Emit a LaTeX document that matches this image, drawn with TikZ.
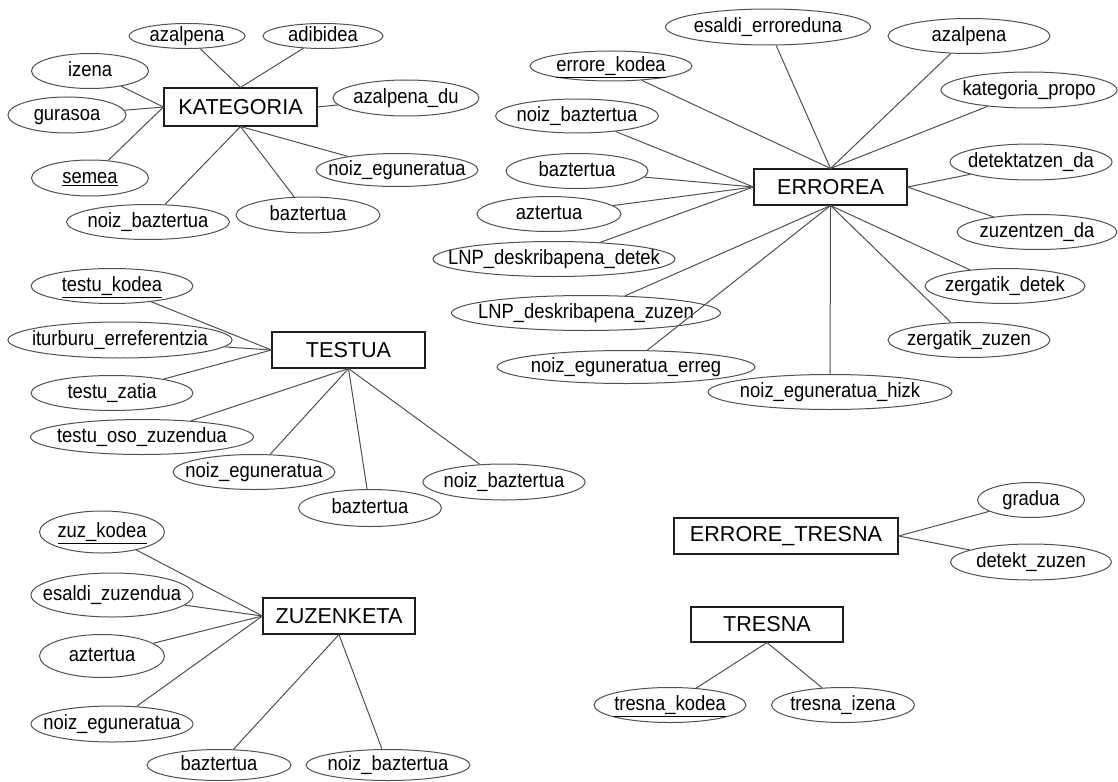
\documentclass[tikz,border=0pt]{standalone}
\usepackage{fontspec}
\setmainfont{Liberation Sans}
\usetikzlibrary{shapes.geometric}
\definecolor{lc}{RGB}{80,80,80}
\definecolor{bc}{RGB}{30,30,30}
\newcommand{\atx}[1]{\smash{\raisebox{-0.55ex}{\makebox[0pt]{\scalebox{1}[1.12]{#1}}}}}
\tikzset{
  attr/.style={ellipse, draw=lc, line width=1pt, inner sep=0pt, font=\fontsize{18.4}{22}\selectfont},
  ent/.style={rectangle, draw=bc, line width=1.1pt, inner sep=0pt, font=\fontsize{21.6}{26}\selectfont},
  link/.style={draw=lc, line width=1pt}
}
\begin{document}
\begin{tikzpicture}[x=1pt,y=-1pt]
\useasboundingbox[fill=white] (0,0) rectangle (1118,781);

% KATEGORIA
\node[ent, minimum width=153, minimum height=38] (K) at (240.5,107) {KATEGORIA};
\node[attr, minimum width=116, minimum height=25] (k1) at (187,36) {\atx{azalpena}};
\node[attr, minimum width=120, minimum height=25] (k2) at (323,36) {\atx{adibidea}};
\node[attr, minimum width=117, minimum height=35] (k3) at (90,71) {\atx{izena}};
\node[attr, minimum width=118, minimum height=36] (k4) at (67,115) {\atx{gurasoa}};
\node[attr, minimum width=117, minimum height=36] (k5) at (90,178) {\atx{\underline{semea}}};
\node[attr, minimum width=163, minimum height=35] (k6) at (148,222) {\atx{noiz\_baztertua}};
\node[attr, minimum width=144, minimum height=36] (k7) at (308,215) {\atx{baztertua}};
\node[attr, minimum width=162, minimum height=33] (k8) at (397,170) {\atx{noiz\_eguneratua}};
\node[attr, minimum width=146, minimum height=36] (k9) at (406,98) {\atx{azalpena\_du}};
\draw[link] (k1) -- (K.north);
\draw[link] (k2) -- (K.north);
\draw[link] (k3) -- (K.west);
\draw[link] (k4) -- (K.west);
\draw[link] (k5) -- (K.west);
\draw[link] (k6) -- (K.south);
\draw[link] (k7) -- (K.south);
\draw[link] (k8) -- (K.south);
\draw[link] (k9) -- (K.east);

% ERROREA
\node[ent, minimum width=153, minimum height=36] (E) at (830.5,187) {ERROREA};
\node[attr, minimum width=162, minimum height=30] (e1) at (611,66) {\atx{\underline{errore\_kodea}}};
\node[attr, minimum width=205, minimum height=36] (e2) at (768,27) {\atx{esaldi\_erroreduna}};
\node[attr, minimum width=162, minimum height=35] (e3) at (969,36) {\atx{azalpena}};
\node[attr, minimum width=176, minimum height=36] (e4) at (1029,90) {\atx{kategoria\_propo}};
\node[attr, minimum width=163, minimum height=34] (e5) at (577,116) {\atx{noiz\_baztertua}};
\node[attr, minimum width=142, minimum height=35] (e6) at (577,171) {\atx{baztertua}};
\node[attr, minimum width=144, minimum height=35] (e7) at (549,214) {\atx{aztertua}};
\node[attr, minimum width=242, minimum height=35] (e8) at (554,259) {\atx{LNP\_deskribapena\_detek}};
\node[attr, minimum width=162, minimum height=36] (e9) at (1031,162) {\atx{detektatzen\_da}};
\node[attr, minimum width=160, minimum height=35] (e10) at (1037,232) {\atx{zuzentzen\_da}};
\node[attr, minimum width=269, minimum height=35] (e11) at (586,313) {\atx{LNP\_deskribapena\_zuzen}};
\node[attr, minimum width=258, minimum height=33] (e12) at (626,367) {\atx{noiz\_eguneratua\_erreg}};
\node[attr, minimum width=244, minimum height=35] (e13) at (830,392) {\atx{noiz\_eguneratua\_hizk}};
\node[attr, minimum width=160, minimum height=35] (e14) at (1005,286) {\atx{zergatik\_detek}};
\node[attr, minimum width=162, minimum height=35] (e15) at (969,340) {\atx{zergatik\_zuzen}};
\foreach \n in {e1,e2,e3,e4} \draw[link] (\n) -- (E.north);
\foreach \n in {e5,e6,e7,e8} \draw[link] (\n) -- (E.west);
\foreach \n in {e9,e10} \draw[link] (\n) -- (E.east);
\foreach \n in {e11,e12,e13,e14,e15} \draw[link] (\n) -- (E.south);

% TESTUA
\node[ent, minimum width=153, minimum height=36] (T) at (348.5,350) {TESTUA};
\node[attr, minimum width=162, minimum height=35] (t1) at (112,286) {\atx{\underline{testu\_kodea}}};
\node[attr, minimum width=224, minimum height=36] (t2) at (120,340) {\atx{iturburu\_erreferentzia}};
\node[attr, minimum width=162, minimum height=35] (t3) at (112,393) {\atx{testu\_zatia}};
\node[attr, minimum width=223, minimum height=35] (t4) at (142,437) {\atx{testu\_oso\_zuzendua}};
\node[attr, minimum width=162, minimum height=35] (t5) at (254,472) {\atx{noiz\_eguneratua}};
\node[attr, minimum width=143, minimum height=37] (t6) at (370,508) {\atx{baztertua}};
\node[attr, minimum width=162, minimum height=36] (t7) at (504,482) {\atx{noiz\_baztertua}};
\foreach \n in {t1,t2,t3} \draw[link] (\n) -- (T.west);
\foreach \n in {t4,t5,t6,t7} \draw[link] (\n) -- (T.south);

% ZUZENKETA
\node[ent, minimum width=152, minimum height=36] (Z) at (339,616) {ZUZENKETA};
\node[attr, minimum width=125, minimum height=42] (z1) at (102,532) {\atx{\underline{zuz\_kodea}}};
\node[attr, minimum width=162, minimum height=44] (z2) at (112,595) {\atx{esaldi\_zuzendua}};
\node[attr, minimum width=125, minimum height=43] (z3) at (102,656) {\atx{aztertua}};
\node[attr, minimum width=162, minimum height=36] (z4) at (112,724) {\atx{noiz\_eguneratua}};
\node[attr, minimum width=144, minimum height=31] (z5) at (219,765) {\atx{baztertua}};
\node[attr, minimum width=164, minimum height=31] (z6) at (388,765) {\atx{noiz\_baztertua}};
\foreach \n in {z1,z2,z3,z4} \draw[link] (\n) -- (Z.west);
\foreach \n in {z5,z6} \draw[link] (\n) -- (Z.south);

% ERRORE_TRESNA
\node[ent, minimum width=224, minimum height=36] (R) at (786,536) {ERRORE\_TRESNA};
\node[attr, minimum width=107, minimum height=35] (r1) at (1031,500) {\atx{gradua}};
\node[attr, minimum width=161, minimum height=36] (r2) at (1031,562) {\atx{detekt\_zuzen}};
\foreach \n in {r1,r2} \draw[link] (\n) -- (R.east);

% TRESNA
\node[ent, minimum width=152, minimum height=35] (S) at (767,624.5) {TRESNA};
\node[attr, minimum width=152, minimum height=35] (s1) at (670,705) {\atx{\underline{tresna\_kodea}}};
\node[attr, minimum width=143, minimum height=35] (s2) at (843,705) {\atx{tresna\_izena}};
\foreach \n in {s1,s2} \draw[link] (\n) -- (S.south);
\end{tikzpicture}
\end{document}
